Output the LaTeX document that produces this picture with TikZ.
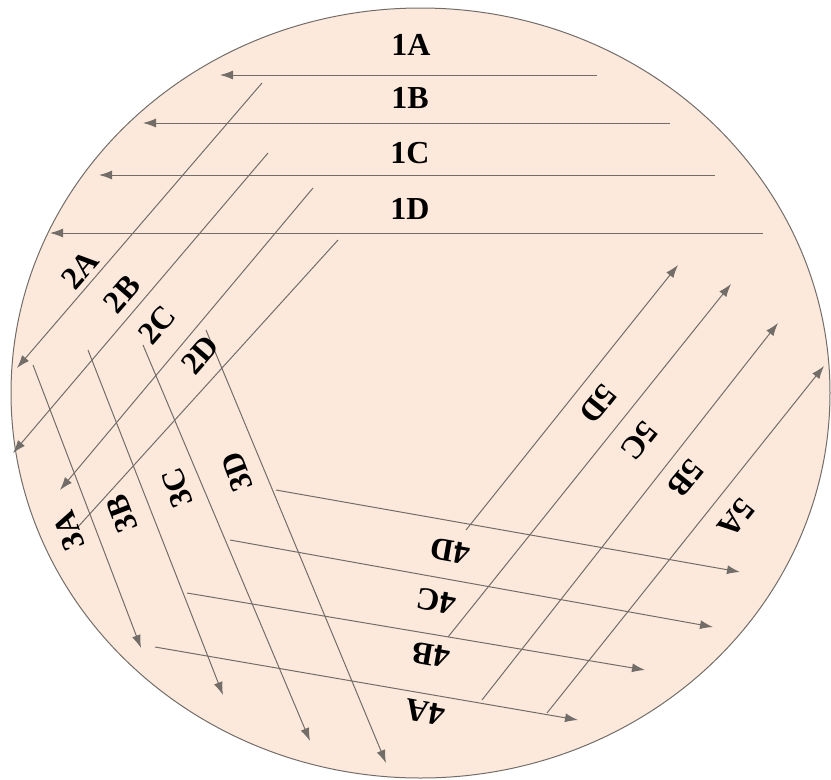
\documentclass[tikz,border=0pt]{standalone}
\usepackage{fontspec}
\setmainfont{Liberation Serif}
\usetikzlibrary{arrows.meta}
\definecolor{plate}{RGB}{252,233,219}
\definecolor{streakgray}{RGB}{115,109,106}
\tikzset{
  streak/.style={draw=streakgray,line width=1pt},
  streakarrow/.style={streak,-{Latex[length=13pt,width=9pt]}},
  zone/.style={font=\fontsize{32}{32}\selectfont\bfseries,inner sep=0pt},
}
\begin{document}
\begin{tikzpicture}[x=1pt,y=-1pt]
  \useasboundingbox (0,0) rectangle (831,780);
  \draw[fill=plate,draw=streakgray,line width=1pt] (420.5,393) ellipse [x radius=409.5,y radius=385];
  % zone 1
  \foreach \row/\xs/\xe/\ys in {A/597/220/75,B/670/143/123,C/715/99/175,D/763/50/233}
    \draw[streakarrow] (\xs,\ys) -- (\xe,\ys);
  % zone 2
  \foreach \xs/\ys/\xe/\ye in {262/83/17/368,268/153/13/453,313/188/60/490}
    \draw[streakarrow] (\xs,\ys) -- (\xe,\ye);
  \draw[streak] (338,240) -- (77,528);
  % zone 3
  \foreach \xs/\ys/\xe/\ye in {33/365/141/648,88/350/223/695,143/345/310/741,206/330/386/763}
    \draw[streakarrow] (\xs,\ys) -- (\xe,\ye);
  % zone 4
  \foreach \xs/\ys/\xe/\ye in {155/647/578/720,187/593/645/670,230/540/713/627,276/490/740/572}
    \draw[streakarrow] (\xs,\ys) -- (\xe,\ye);
  % zone 5
  \foreach \xs/\ys/\xe/\ye in {547/713/824/366,482/700/778/323,448/637/731/284,466/530/678/265}
    \draw[streakarrow] (\xs,\ys) -- (\xe,\ye);
  % labels
  \foreach \row/\xl/\yl in {A/411/45,B/410/98,C/410/153,D/410/209}
    \node[zone] (l1\row) at (\xl,\yl) {1\row};
  \foreach \row/\xl/\yl in {A/80/270,B/122/294,C/157/325,D/200/355}
    \node[zone,rotate=49] (l2\row) at (\xl,\yl) {2\row};
  \foreach \row/\xl/\yl in {A/69/531,B/122/514,C/177/488,D/237/472}
    \node[zone,rotate=111] (l3\row) at (\xl,\yl) {3\row};
  \foreach \row/\xl/\yl in {A/425/712,B/431/655,C/436/601,D/450/551}
    \node[zone,rotate=170] (l4\row) at (\xl,\yl) {4\row};
  \foreach \row/\xl/\yl in {A/736/518,B/686/478,C/639/441,D/598/404}
    \node[zone,rotate=231] (l5\row) at (\xl,\yl) {5\row};
\end{tikzpicture}
\end{document}
